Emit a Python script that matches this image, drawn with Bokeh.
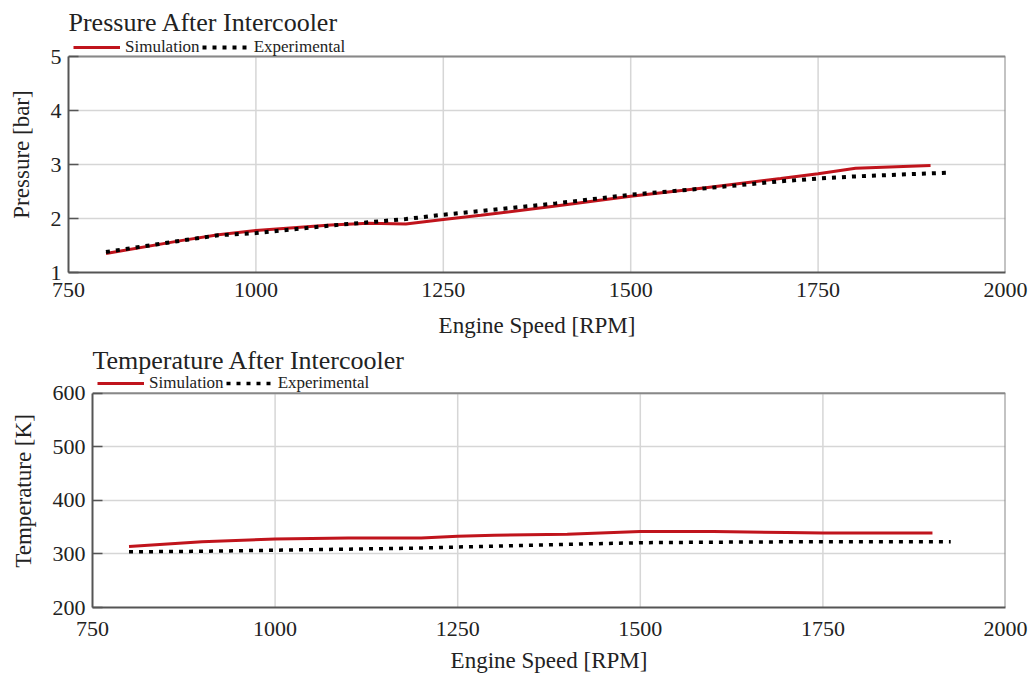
from bokeh.plotting import figure
from bokeh.models import Legend, LegendItem, FixedTicker
from bokeh.layouts import column, row
from bokeh.embed import file_html
from bokeh.resources import INLINE

# ---- data ----
rpm_p_sim = [800, 900, 950, 1000, 1100, 1150, 1200, 1250, 1300, 1400, 1500, 1600, 1700, 1750, 1800, 1900]
p_sim = [1.35, 1.59, 1.70, 1.78, 1.88, 1.91, 1.90, 1.98, 2.06, 2.23, 2.41, 2.57, 2.74, 2.83, 2.93, 2.98]
rpm_p_exp = [800, 900, 950, 1000, 1100, 1150, 1200, 1250, 1300, 1400, 1500, 1600, 1700, 1750, 1800, 1925]
p_exp = [1.38, 1.59, 1.69, 1.73, 1.87, 1.93, 1.99, 2.07, 2.14, 2.28, 2.44, 2.56, 2.69, 2.74, 2.78, 2.85]

rpm_t_sim = [800, 900, 1000, 1100, 1200, 1250, 1300, 1400, 1500, 1600, 1700, 1750, 1800, 1900]
t_sim = [314, 323, 328, 330, 330, 333, 335, 337, 342, 342, 340, 339, 339, 339]
rpm_t_exp = [800, 900, 1000, 1100, 1200, 1250, 1400, 1500, 1600, 1750, 1925]
t_exp = [304, 305, 307, 309, 311, 313, 318, 321, 322, 323, 323]

x_ticks = [750, 1000, 1250, 1500, 1750, 2000]
p_ticks = [1, 2, 3, 4, 5]
t_ticks = [200, 300, 400, 500, 600]
series_names = ["Simulation", "Experimental"]

FONT = "Liberation Serif"
RED = "#c0141c"
TXT = "#222222"
BORDER = "#888888"


def make_fig(title, ylabel, yticks, head_frac, xs1, ys1, xs2, ys2,
             left, height, top, bottom, dot_w, leg_y, xl_stand, xa_stand):
    y0, y1 = yticks[0], yticks[-1]
    y_top = y1 + (y1 - y0) * head_frac   # room above the box for the legend row
    x0, x1 = x_ticks[0], x_ticks[-1]
    p = figure(width=1033, height=height, x_range=(x0, x1), y_range=(y0, y_top),
               output_backend="svg", toolbar_location=None, title=title,
               min_border_left=left, min_border_right=28, min_border_top=top,
               min_border_bottom=bottom)
    p.title.text_font = FONT
    p.title.text_font_size = "26px"
    p.title.text_font_style = "normal"
    p.title.text_color = TXT
    p.title.offset = 0
    p.title.standoff = 0

    # box: grid + border restricted to the data area
    p.xgrid.visible = False
    p.ygrid.grid_line_color = "#d6d6d6"
    p.ygrid.grid_line_width = 1.5
    inner = x_ticks[1:-1]
    p.segment(x0=inner, y0=[y0] * len(inner), x1=inner, y1=[y1] * len(inner),
              line_color="#d6d6d6", line_width=1.5)
    p.segment(x0=[x0, x1], y0=[y1, y0], x1=[x1, x1], y1=[y1, y1],
              line_color=BORDER, line_width=2)
    p.outline_line_color = None

    r1 = p.line(xs1, ys1, line_color=RED, line_width=3)
    r2 = p.line(xs2, ys2, line_color="black", line_width=dot_w, line_dash="4 6")

    p.xaxis.ticker = FixedTicker(ticks=x_ticks)
    p.yaxis.ticker = FixedTicker(ticks=yticks)
    p.yaxis.bounds = (y0, y1)
    p.xaxis.axis_label = "Engine Speed [RPM]"
    p.yaxis.axis_label = ylabel
    for ax in (p.xaxis[0], p.yaxis[0]):
        ax.axis_label_text_font = FONT
        ax.axis_label_text_font_size = "23px"
        ax.axis_label_text_font_style = "normal"
        ax.axis_label_text_color = TXT
        ax.major_label_text_font = FONT
        ax.major_label_text_font_size = "22px"
        ax.major_label_text_color = TXT
        ax.axis_line_color = "#555555"
        ax.axis_line_width = 2
        ax.minor_tick_line_color = None
        ax.major_tick_line_color = "#555555"
        ax.major_tick_line_width = 1.5
    p.yaxis.major_tick_in = 10
    p.yaxis.major_tick_out = 0
    p.xaxis.major_tick_in = 0
    p.xaxis.major_tick_out = 0
    p.xaxis.major_label_standoff = xl_stand
    p.yaxis.major_label_standoff = 7
    p.xaxis.axis_label_standoff = xa_stand
    p.yaxis.axis_label_standoff = 14

    leg = Legend(items=[LegendItem(label=series_names[0], renderers=[r1]),
                        LegendItem(label=series_names[1], renderers=[r2])],
                 orientation="horizontal", location=(5, leg_y),
                 label_text_font=FONT, label_text_font_size="17px",
                 label_text_color=TXT, label_height=18,
                 glyph_width=47, glyph_height=12, label_standoff=5, spacing=2,
                 padding=0, margin=0,
                 border_line_alpha=0, background_fill_alpha=0)
    p.add_layout(leg, "center")
    return p


p1 = make_fig("Pressure After Intercooler", "Pressure [bar]", p_ticks, 20 / 216,
              rpm_p_sim, p_sim, rpm_p_exp, p_exp, 68, 340, 36, 68, 4, 215, 10, 13)
p2 = make_fig("Temperature After Intercooler", "Temperature [K]", t_ticks, 19 / 216,
              rpm_t_sim, t_sim, rpm_t_exp, t_exp, 92, 335, 34, 66, 3.5, 214, 14, 9)

layout = column(row(p1), row(p2), spacing=0)
open("out.html", "w").write(file_html(layout, INLINE))
